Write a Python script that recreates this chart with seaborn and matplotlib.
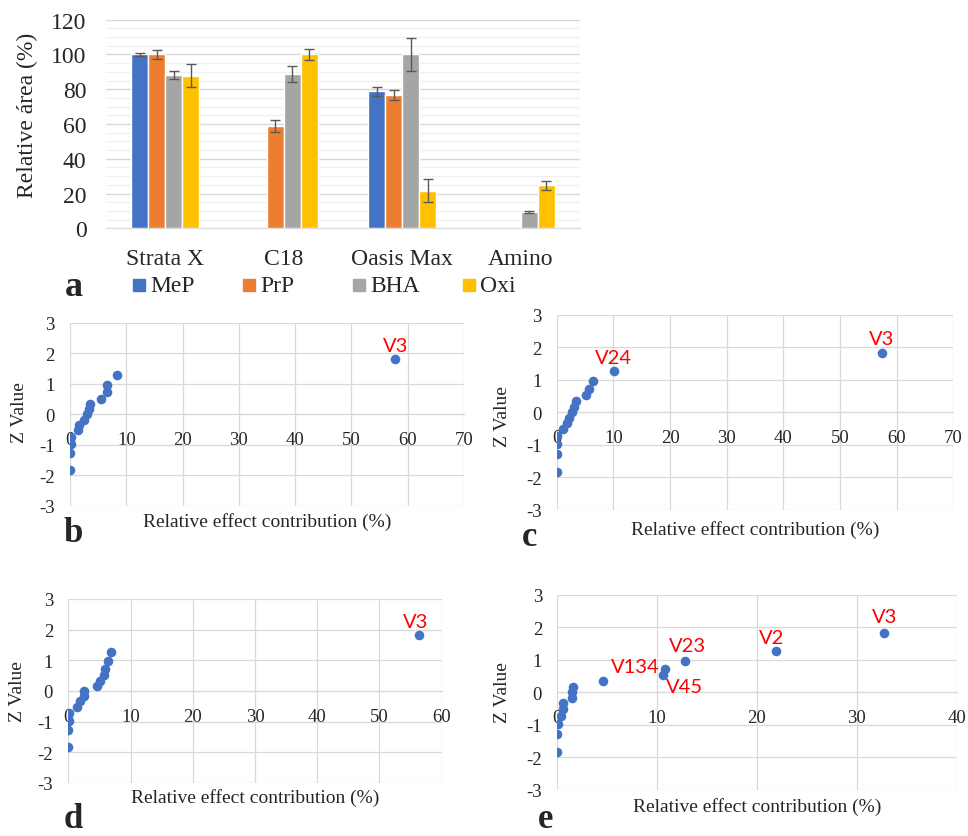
import numpy as np
import pandas as pd
import matplotlib
matplotlib.use("Agg")
import matplotlib.pyplot as plt
import seaborn as sns

# ---------------- data ----------------
categories = ["Strata X", "C18", "Oasis Max", "Amino"]
series = ["MeP", "PrP", "BHA", "Oxi"]
colors = ["#4472C4", "#ED7D31", "#A5A5A5", "#FFC000"]

mep = [100.0, 0.0, 78.7, 0.0]
prp = [100.0, 58.7, 76.5, 0.0]
bha = [88.1, 88.5, 100.0, 9.4]
oxi = [87.7, 100.0, 21.5, 24.8]
mep_err = [0.8, np.nan, 2.5, np.nan]
prp_err = [2.4, 3.5, 2.9, np.nan]
bha_err = [2.4, 4.6, 9.3, 0.4]
oxi_err = [6.6, 3.0, 6.6, 2.6]

z_values = [-1.83, -1.28, -0.97, -0.73, -0.52, -0.34, -0.17, 0.0,
            0.17, 0.34, 0.52, 0.73, 0.97, 1.28, 1.83]
contrib_b = [0.05, 0.05, 0.1, 0.1, 1.5, 1.65, 2.5, 3.1, 3.3, 3.55, 5.5, 6.6, 6.6, 8.3, 57.8]
contrib_c = [0.0, 0.0, 0.05, 0.1, 1.2, 1.9, 2.1, 2.75, 3.1, 3.4, 5.17, 5.7, 6.46, 10.2, 57.4]
contrib_d = [0.0, 0.0, 0.05, 0.1, 1.34, 1.87, 2.46, 2.57, 4.55, 5.1, 5.8, 5.95, 6.3, 6.86, 56.3]
contrib_e = [0.0, 0.0, 0.05, 0.33, 0.55, 0.6, 1.44, 1.5, 1.55, 4.54, 10.55, 10.8, 12.8, 21.9, 32.75]

labels_b = {14: "V3"}
labels_c = {13: "V24", 14: "V3"}
labels_d = {14: "V3"}
labels_e = {10: "V45", 11: "V134", 12: "V23", 13: "V2", 14: "V3"}

x_label = "Relative effect contribution (%)"
y_label_scatter = "Z Value"
y_label_bar = "Relative área (%)"

# ---------------- style ----------------
sns.set_style("white")
plt.rcParams["font.family"] = ["Liberation Serif", "DejaVu Serif"]
plt.rcParams["axes.unicode_minus"] = False

W, H = 968, 837
fig = plt.figure(figsize=(W / 100, H / 100), dpi=100)


def fx(px):
    return px / W


def fy(py):
    return 1 - py / H


def add_axes(l, t, r, b):
    return fig.add_axes([fx(l), fy(b), fx(r) - fx(l), fy(t) - fy(b)])


GRID = "#D9D9D9"

# ---------------- panel a ----------------
ax = add_axes(106, 20.7, 580, 229.3)
df = pd.DataFrame({
    "cat": categories * 4,
    "series": sum([[s] * 4 for s in series], []),
    "val": mep + prp + bha + oxi,
})
sns.barplot(data=df, x="cat", y="val", hue="series", order=categories,
            hue_order=series, palette=colors, width=0.574, gap=0,
            errorbar=None, saturation=1, legend=False, ax=ax, zorder=2)
for cont, errs in zip(ax.containers, [mep_err, prp_err, bha_err, oxi_err]):
    for bar, e in zip(cont, errs):
        if np.isnan(e):
            continue
        ax.errorbar(bar.get_x() + bar.get_width() / 2, bar.get_height(), yerr=e,
                    color="#595959", capsize=3.5, elinewidth=1, capthick=1, zorder=3)
ax.set_ylim(0, 120)
ax.set_xlim(-0.5, 3.5)
ax.set_yticks(np.arange(0, 121, 20))
ax.set_yticks(np.arange(0, 121, 5), minor=True)
ax.set_axisbelow(True)
ax.grid(axis="y", which="major", color=GRID, lw=1.0)
ax.grid(axis="y", which="minor", color="#F0F0F0", lw=0.9)
for s in ["top", "right", "left"]:
    ax.spines[s].set_visible(False)
ax.spines["bottom"].set_color(GRID)
ax.tick_params(axis="both", which="both", length=0, labelsize=17)
ax.tick_params(axis="y", pad=14)
ax.tick_params(axis="x", pad=14)
ax.set_xlabel("")
ax.set_ylabel("")
fig.text(fx(27), fy(115), y_label_bar, rotation=90, ha="center", va="center", fontsize=17)
fig.text(fx(74), fy(296), "a", ha="center", va="baseline", fontsize=26, fontweight="bold")
for i, (name, col) in enumerate(zip(series, colors)):
    x0 = 133 + 110 * i
    fig.patches.append(plt.Rectangle((fx(x0), fy(292)), fx(12), 12 / H,
                                     transform=fig.transFigure, color=col, figure=fig))
    fig.text(fx(x0 + 17), fy(286), name, ha="left", va="center", fontsize=17)


# ---------------- panels b-e ----------------
def zplot(box, xs, xmax, labels, offsets, ylab_pos, xlab_pos, letter, letter_pos):
    ax = add_axes(*box)
    sns.scatterplot(x=xs, y=z_values, ax=ax, color="#4472C4", s=48,
                    linewidth=0, zorder=3)
    ax.set_xlim(0, xmax)
    ax.set_ylim(-3, 3)
    ax.set_xticks(np.arange(0, xmax + 1, 10))
    ax.set_yticks(np.arange(-3, 4, 1))
    ax.set_axisbelow(True)
    ax.grid(True, color=GRID, lw=0.9)
    for s in ["top", "right", "left"]:
        ax.spines[s].set_visible(False)
    ax.spines["bottom"].set_position(("data", 0))
    ax.spines["bottom"].set_color(GRID)
    ax.tick_params(axis="both", length=0, labelsize=13.5)
    ax.tick_params(axis="y", pad=11)
    ax.tick_params(axis="x", pad=12)
    for idx, txt in labels.items():
        dx, dy = offsets[idx]
        ax.annotate(txt, (xs[idx], z_values[idx]), xytext=(dx * 0.72, dy * 0.72),
                    textcoords="offset points", ha="center", va="center",
                    color="#FF0000", fontsize=14.5, family=["Lato", "DejaVu Sans"])
    fig.text(fx(ylab_pos[0]), fy(ylab_pos[1]), y_label_scatter, rotation=90,
             ha="center", va="center", fontsize=14)
    fig.text(fx(xlab_pos[0]), fy(xlab_pos[1]), x_label, ha="center", va="center", fontsize=14)
    fig.text(fx(letter_pos[0]), fy(letter_pos[1]), letter, ha="center", va="center",
             fontsize=25, fontweight="bold")
    return ax


zplot((70, 324, 464, 506.7), contrib_b, 70, labels_b, {14: (0, 13)},
      (20, 413), (267, 522), "b", (73, 534))
zplot((556.7, 316, 953.3, 510.7), contrib_c, 70, labels_c, {13: (-1, 13), 14: (0, 14)},
      (503, 417), (755, 530), "c", (530, 538))
zplot((68.3, 600, 441.7, 784), contrib_d, 60, labels_d, {14: (-3, 13)},
      (17, 692), (255, 798), "d", (73, 820))
zplot((557.3, 596, 956.7, 790.7), contrib_e, 40, labels_e,
      {10: (22, -11), 11: (-30, 2), 12: (2, 15), 13: (-4, 13), 14: (0, 16)},
      (503, 693), (757, 807), "e", (546, 820))

fig.savefig("out.png", dpi=100)
